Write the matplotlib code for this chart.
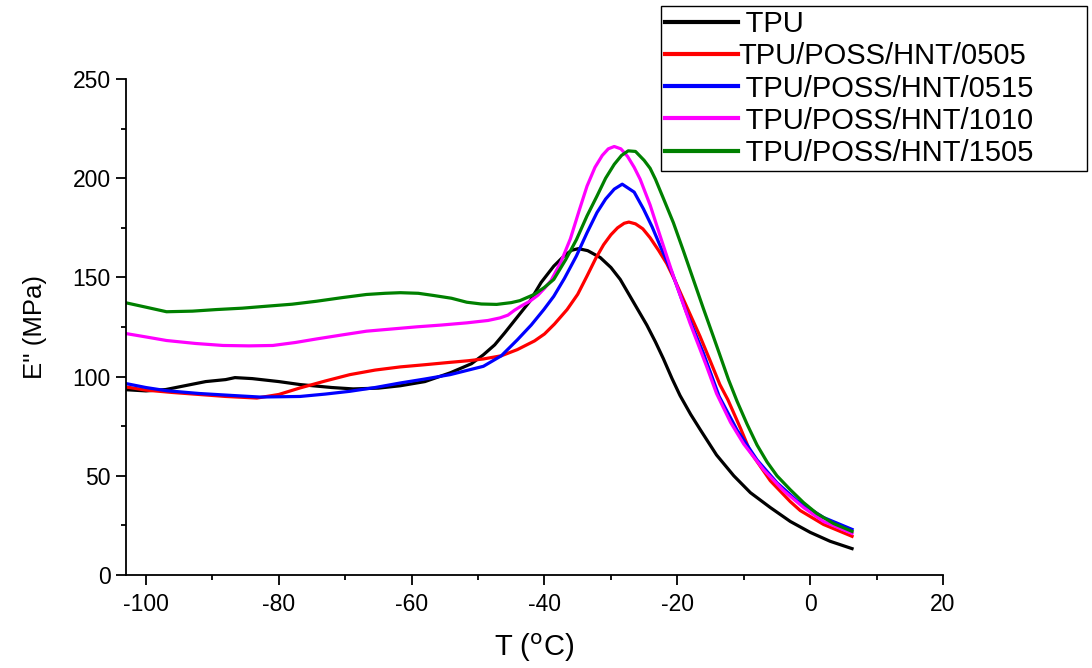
import matplotlib
matplotlib.use("Agg")
import matplotlib.pyplot as plt
from matplotlib.ticker import MultipleLocator

plt.rcParams["font.family"] = ["Liberation Sans", "DejaVu Sans"]
plt.rcParams["axes.unicode_minus"] = False

# E'' (MPa) vs temperature
t_tpu = [-103, -100, -97, -94, -91, -88, -86.6, -84, -80, -76.8, -72, -68.8, -65, -61.7,
         -58, -54.2, -51, -49.2, -47.5, -46, -44.1, -42.2, -40.5, -38.6, -37, -35.9,
         -34.9, -33.5, -31.6, -30, -28.6, -26.6, -24.6, -23.3, -22.1, -20.8, -19.6, -18,
         -16.5, -14.1, -11.5, -9, -6, -3, 0, 3, 6.3]
e_tpu = [93.4, 92.8, 93.5, 95.5, 97.5, 98.5, 99.5, 99, 97.5, 96, 94.5, 93.8, 94.2, 95.4,
         97.5, 101.9, 106.5, 111, 116, 122, 130, 138, 147.5, 155.7, 161, 163.7,
         164.5, 163.5, 160, 155, 149, 137.5, 126, 117.5, 109, 99, 90.5, 81,
         73, 60.5, 50, 41.5, 34, 27, 21.5, 17, 13.3]

t_0505 = [-103, -100, -96, -92, -88, -83.3, -80, -76.8, -73, -69.3, -65.5, -61.7, -58,
          -54.2, -51.5, -49.2, -46.5, -44.1, -41.5, -40, -38.5, -36.6, -35, -33.6, -32.3,
          -31.1, -30, -29, -28, -27.3, -26.3, -25.2, -24.1, -22.8, -21.6, -20.3, -19.1,
          -16.6, -15, -13.6, -12.4, -10.5, -9, -6, -3, -1.5, 2, 6.3]
e_0505 = [94.8, 93.2, 92, 91, 90, 89.2, 91, 94.3, 97.8, 101, 103.3, 104.9, 106,
          107.2, 108, 108.9, 110.5, 113.6, 118, 121.5, 126.5, 133.8, 141.5, 150.7, 159.5,
          166.5, 171.5, 175, 177.3, 177.9, 177, 174.5, 170, 163.5, 157, 148, 139,
          120.4, 107.5, 96, 88.4, 74, 62, 47.5, 37, 32.5, 25.5, 19.5]

t_0515 = [-103, -100, -96.9, -92, -87, -82.8, -76.8, -73, -69.3, -65.5, -61.7, -58, -54.2,
          -49.2, -46.5, -44.1, -42, -40.1, -38.6, -37, -35.2, -33.6, -32.1, -30.8, -29.5,
          -28.3, -26.5, -25.1, -23.8, -22.6, -20.8, -18.6, -16.1, -13.7, -11, -8, -5, -2,
          2, 6.3]
e_0515 = [96.5, 94.5, 92.9, 91.5, 90.5, 89.7, 90, 91.2, 92.6, 94.5, 96.8, 98.8, 101,
          105.2, 110.5, 118.5, 126, 133.8, 140.5, 149.5, 160.8, 172.5, 182.7, 189.5, 194.5,
          197, 193, 184.5, 175.5, 166, 152.4, 132.2, 112, 90, 73, 58, 46.5, 37.5,
          29, 23]

t_1010 = [-103, -100, -96.9, -92.5, -88.4, -84.5, -80.9, -77.5, -74.3, -70.5, -66.8, -63,
          -59.2, -55.5, -51.7, -48.5, -46.7, -45.5, -44.5, -43.3, -42.2, -41, -40, -39,
          -37.5, -36.1, -34.8, -33.6, -32.4, -31.3, -30.4, -29.5, -28.5, -27.5, -26.5,
          -25.6, -24.1, -22.6, -20.6, -18.1, -15.6, -14.1, -12, -10, -7, -4, -1, 2, 6.3]
e_1010 = [121.7, 120, 118.2, 116.7, 115.7, 115.5, 115.7, 117.2, 119, 121, 122.9, 124,
          125.1, 126, 127.1, 128.3, 129.6, 131, 133.5, 136, 138, 141, 144.5, 148.5,
          158, 169.5, 183.5, 196, 205.5, 211.5, 214.8, 216, 214.8, 211, 205.5,
          199.5, 186.5, 171, 150.7, 127, 105.2, 91.5, 77, 66, 53, 42.5, 34, 27, 21]

t_1505 = [-103, -100, -96.9, -93, -89.4, -85.5, -81.8, -78, -74.3, -70.5, -66.8, -64, -61.7,
          -59, -56.7, -54, -51.7, -49.5, -47.2, -45, -43.7, -41.5, -40, -38.6, -36.8, -35.2,
          -33.6, -32.1, -30.8, -29.5, -28.4, -27.4, -26.3, -25, -24.1, -23.3, -22, -20.6,
          -19.1, -17.6, -16.1, -14.6, -13.4, -12.3, -11, -9.5, -8, -6.5, -5, -3, -1,
          1, 3.5, 6.3]
e_1505 = [137.2, 135, 132.7, 133, 133.8, 134.5, 135.5, 136.5, 138, 139.8, 141.4, 142, 142.3,
          142, 140.9, 139.5, 137.5, 136.6, 136.4, 137.3, 138.3, 141.5, 145, 149, 159, 169,
          181, 191, 200, 207, 211.5, 213.8, 213.5, 209, 205, 199.5, 189, 177.6,
          163.5, 149, 134.5, 120.4, 109, 98.5, 87.5, 76, 65.5, 57, 50, 43, 36.5,
          31, 26, 22]

labels = [" TPU", "TPU/POSS/HNT/0505", " TPU/POSS/HNT/0515",
          " TPU/POSS/HNT/1010", " TPU/POSS/HNT/1505"]
colors = ["black", "#ff0000", "#0000ff", "#ff00ff", "#008000"]

fig = plt.figure(figsize=(10.92, 6.68), dpi=100)
ax = fig.add_axes([0.1154, 0.1392, 0.8636 - 0.1154, 0.8817 - 0.1392])

series = [(t_tpu, e_tpu), (t_0505, e_0505), (t_0515, e_0515), (t_1010, e_1010), (t_1505, e_1505)]
for (t, e), lab, col in zip(series, labels, colors):
    ax.plot(t, e, color=col, lw=2.3, label=lab, solid_joinstyle="round")

ax.set_xlim(-103, 20)
ax.set_ylim(0, 250)
ax.xaxis.set_major_locator(MultipleLocator(20))
ax.xaxis.set_minor_locator(MultipleLocator(10))
ax.yaxis.set_major_locator(MultipleLocator(50))
ax.yaxis.set_minor_locator(MultipleLocator(25))
ax.tick_params(which="major", direction="out", length=7, width=1.3, labelsize=16.5, pad=4)
ax.tick_params(axis="x", which="major", pad=6)
ax.tick_params(which="minor", direction="out", length=3.5, width=1.3)
for s in ["top", "right"]:
    ax.spines[s].set_visible(False)
for s in ["left", "bottom"]:
    ax.spines[s].set_linewidth(1.3)

ax.set_xlabel(r"T ($^{\rm o}$C)", fontsize=21, labelpad=11)
ax.set_ylabel("E'' (MPa)", fontsize=18.5, labelpad=18)

leg = ax.legend(loc="upper left", bbox_to_anchor=(0.6053, 0.744, 0.9954 - 0.6053, 0.991 - 0.744),
                bbox_transform=fig.transFigure, mode="expand", borderaxespad=0,
                fancybox=False, edgecolor="black", fontsize=21, handlelength=2.5,
                handletextpad=0.0, labelspacing=0.14, borderpad=0.15, framealpha=1)
leg.get_frame().set_linewidth(1.0)
for line in leg.get_lines():
    line.set_linewidth(3)

fig.savefig("out.png", dpi=100, facecolor="white")
